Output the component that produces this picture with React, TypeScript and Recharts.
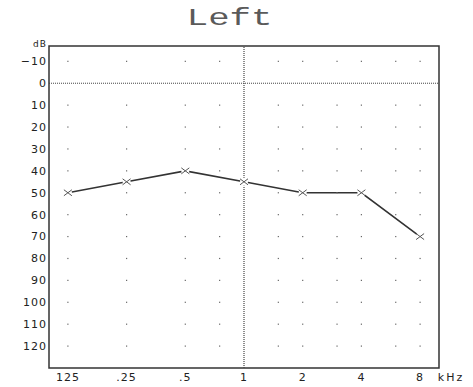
import React from 'react';
import {
  ComposedChart,
  Line,
  Scatter,
  XAxis,
  YAxis,
  ReferenceLine,
  ReferenceArea,
} from 'recharts';

// Audiogram (left ear) – thresholds in dB HL
const freqs = [125, 250, 500, 1000, 2000, 4000, 8000];
const thresholds = [50, 45, 40, 45, 50, 50, 70];

const xTicks = [125, 250, 500, 1000, 2000, 4000, 8000];
const xTickLabels = ['125', '.25', '.5', '1', '2', '4', '8'];
const yTicks = [-10, 0, 10, 20, 30, 40, 50, 60, 70, 80, 90, 100, 110, 120];

// background dot grid
const gridFreqs = [125, 250, 500, 750, 1500, 2000, 3000, 4000, 6000, 8000];
const gridLevels = [-10, 10, 20, 30, 40, 50, 60, 70, 80, 90, 100, 110, 120];

const lineData = freqs.map((f, i) => ({ freq: f, db: thresholds[i] }));
const gridData = gridFreqs.flatMap((f) => gridLevels.map((l) => ({ freq: f, db: l })));

const TICK_FONT = '"DejaVu Sans", sans-serif';

const XMark = (props: any) => {
  const { cx, cy } = props;
  if (cx == null || cy == null) return null;
  return (
    <g>
      <circle cx={cx} cy={cy} r={4} fill="#fff" />
      <path
        d={`M${cx - 4},${cy - 3}L${cx + 4},${cy + 3}M${cx - 4},${cy + 3}L${cx + 4},${cy - 3}`}
        stroke="#555"
        strokeWidth={1}
        fill="none"
      />
    </g>
  );
};

const GridDot = (props: any) => {
  const { cx, cy } = props;
  if (cx == null || cy == null) return null;
  return <rect x={cx - 0.6} y={cy - 0.6} width={1.2} height={1.2} fill="#666" />;
};

export default function App() {
  return (
    <div style={{ position: 'absolute', left: 0, top: 0, width: 473, height: 387, background: '#fff' }}>
      <div
        style={{
          position: 'absolute',
          left: 0,
          top: 5,
          width: 460,
          textAlign: 'center',
          fontFamily: '"Liberation Mono", monospace',
          fontSize: 23,
          color: '#5a5a5a',
          lineHeight: '28px',
        }}
      >
        <span style={{ display: 'inline-block', transform: 'scale(1.55, 1)' }}>Left</span>
      </div>
      <ComposedChart
        width={473}
        height={387}
        margin={{ top: 46, right: 34, bottom: 0, left: 0 }}
        style={{ position: 'absolute', left: 0, top: 0 }}
      >
        <XAxis
          dataKey="freq"
          type="number"
          scale="log"
          domain={[100, 10000]}
          allowDataOverflow
          ticks={xTicks}
          tickFormatter={(v: number) => xTickLabels[xTicks.indexOf(v)] ?? ''}
          height={19}
          axisLine={false}
          tickLine={false}
          tickSize={3}
          tickMargin={2}
          interval={0}
          tick={{ fontSize: 11, fontFamily: TICK_FONT, fill: '#222', letterSpacing: 1 }}
          label={{
            content: (p: any) => {
              const vb = p.viewBox || {};
              return (
                <text
                  x={vb.x + vb.width + 12}
                  y={381}
                  textAnchor="middle"
                  fontSize={11}
                  fontFamily={TICK_FONT}
                  fill="#222"
                  letterSpacing={2}
                >
                  kHz
                </text>
              );
            },
          }}
        />
        <YAxis
          dataKey="db"
          type="number"
          reversed
          domain={[-17, 130]}
          allowDataOverflow
          ticks={yTicks}
          tickFormatter={(v: number) => String(v).replace('-', '\u2212')}
          width={49}
          axisLine={false}
          tickLine={false}
          tickSize={0}
          tickMargin={2}
          interval={0}
          tick={{ fontSize: 11, fontFamily: TICK_FONT, fill: '#222', letterSpacing: 1 }}
          label={{
            content: (p: any) => {
              const vb = p.viewBox || {};
              return (
                <text
                  x={vb.x + vb.width - 2}
                  y={vb.y + 1}
                  textAnchor="end"
                  fontSize={9}
                  fontFamily={TICK_FONT}
                  fill="#222"
                  letterSpacing={1}
                >
                  dB
                </text>
              );
            },
          }}
        />
        <ReferenceArea
          x1={100}
          x2={10000}
          y1={-17}
          y2={130}
          fill="none"
          fillOpacity={0}
          stroke="#333"
          strokeWidth={1.5}
          ifOverflow="visible"
        />
        <ReferenceLine y={0} stroke="#444" strokeDasharray="1 1" strokeWidth={1} />
        <ReferenceLine x={1000} stroke="#444" strokeDasharray="1 1" strokeWidth={1.2} />
        <Scatter data={gridData} dataKey="db" shape={<GridDot />} isAnimationActive={false} />
        <Line
          data={lineData}
          dataKey="db"
          type="linear"
          stroke="#333"
          strokeWidth={1.6}
          dot={<XMark />}
          activeDot={false}
          isAnimationActive={false}
        />
      </ComposedChart>
    </div>
  );
}
